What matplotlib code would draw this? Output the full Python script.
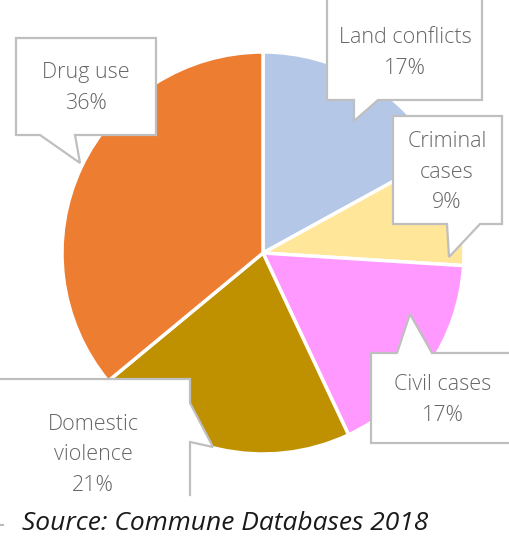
import matplotlib
matplotlib.use("Agg")
import matplotlib.pyplot as plt
from matplotlib.patches import Polygon

categories = ["Land conflicts", "Criminal cases", "Civil cases", "Domestic violence", "Drug use"]
values = [17, 9, 17, 21, 36]
label_lines = ["Land conflicts\n17%", "Criminal\ncases\n9%", "Civil cases\n17%", "Domestic\nviolence\n21%", "Drug use\n36%"]
colors = ["#B4C7E7", "#FFE699", "#FF99FF", "#BF9000", "#ED7D31"]
source_text = "Source: Commune Databases 2018"

W, H = 509, 548
fig = plt.figure(figsize=(W / 100, H / 100), dpi=100)
ax = fig.add_axes([0, 0, 1, 1])

def Y(y):
    return H - y

ax.pie(values, colors=colors, startangle=90, counterclock=False,
       center=(263, Y(253)), radius=201,
       wedgeprops=dict(edgecolor="white", linewidth=2.5))

ax.set_xlim(0, W)
ax.set_ylim(0, H)
ax.set_aspect("equal")
ax.axis("off")

edge = "#BFBFBF"
txt_color = "#666666"
font = dict(family=["Open Sans", "DejaVu Sans"], weight="light", fontsize=15.5,
            color=txt_color, ha="center", va="center", linespacing=1.62)

def callout(points, closed=True):
    pts = [(x, Y(y)) for x, y in points]
    p = Polygon(pts, closed=closed, facecolor="white", edgecolor=edge, linewidth=1.6, zorder=5)
    ax.add_patch(p)

# Land conflicts (box top cut by image edge)
callout([(327, -5), (482, -5), (482, 100), (378, 100), (354, 121), (354, 100), (327, 100)])
# Criminal cases
callout([(393, 116), (502, 116), (502, 224), (480, 224), (449, 257), (447, 224), (393, 224)])
# Civil cases
callout([(371, 353), (397, 353), (410, 314), (432, 353), (515, 353), (515, 443), (371, 443)])
# Drug use
callout([(16, 38), (156, 38), (156, 135), (75, 135), (80, 163), (40, 135), (16, 135)])
# Domestic violence (cut at left and bottom)
ax.add_patch(Polygon([(x, Y(y)) for x, y in [(-5, 379), (190, 379), (190, 403), (213, 447),
                                             (190, 442), (190, 495), (-5, 495)]],
                     closed=True, facecolor="white", edgecolor="none", zorder=5))
ax.plot([-5, 190, 190, 213, 190, 190], [Y(379), Y(379), Y(403), Y(447), Y(442), Y(495)],
        color=edge, linewidth=1.6, zorder=6, solid_joinstyle="miter")

# positions in the same order as label_lines
label_pos = [(405, 53), (447, 172), (443, 400), (93, 455), (86, 88)]
for (x, y), lab in zip(label_pos, label_lines):
    ax.text(x, Y(y), lab, zorder=7, **font)

ax.text(22, Y(523), source_text, fontsize=19, style="italic", color="#1a1a1a",
        family=["Open Sans", "DejaVu Sans"], ha="left", va="center")
ax.plot([0, 3], [Y(525), Y(525)], color="#BBBBBB", linewidth=1.5)

fig.savefig("out.png", dpi=100)
